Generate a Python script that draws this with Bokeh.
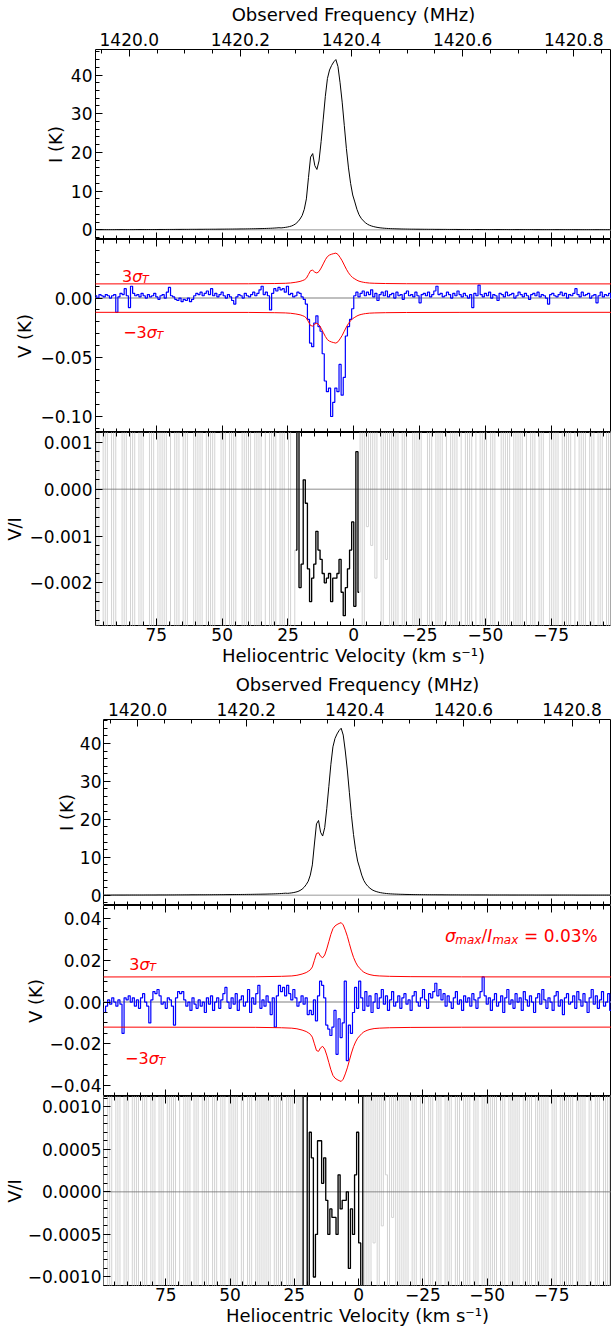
import numpy as np
from bokeh.plotting import figure
from bokeh.layouts import column
from bokeh.models import (Range1d, LinearAxis, SingleIntervalTicker, CustomJSTickFormatter,
                          CustomLabelingPolicy, Label)
from bokeh.embed import file_html
from bokeh.resources import INLINE

# ---------------- data ----------------
V_START = 99.6          # km/s, velocity of first channel
DV = 0.8                # km/s, channel width
MHZ_PER_KMS = 0.0047379 # observed-frequency change per km/s

# Stokes I (K), one value per channel
I_K = [
    0.04, 0.04, 0.04, 0.05, 0.04, 0.05, 0.05, 0.05, 0.05, 0.05,
    0.05, 0.05, 0.06, 0.05, 0.06, 0.06, 0.06, 0.06, 0.06, 0.06,
    0.06, 0.07, 0.07, 0.07, 0.07, 0.07, 0.07, 0.08, 0.08, 0.08,
    0.08, 0.08, 0.09, 0.09, 0.09, 0.09, 0.10, 0.10, 0.10, 0.10,
    0.11, 0.11, 0.11, 0.12, 0.12, 0.12, 0.12, 0.13, 0.13, 0.13,
    0.13, 0.14, 0.14, 0.14, 0.15, 0.15, 0.15, 0.16, 0.16, 0.16,
    0.17, 0.17, 0.18, 0.18, 0.19, 0.19, 0.20, 0.20, 0.21, 0.21,
    0.22, 0.23, 0.23, 0.24, 0.25, 0.26, 0.27, 0.28, 0.29, 0.30,
    0.31, 0.33, 0.34, 0.36, 0.38, 0.40, 0.43, 0.46, 0.50, 0.54,
    0.50, 0.56, 0.63, 0.72, 0.84, 1.00, 1.25, 1.60, 2.10, 2.80,
    3.7, 5.3, 8.0, 13.5, 18.8, 19.7, 16.6, 15.6, 17.8, 22.8,
    28.6, 34.5, 39.1, 41.3, 42.5, 43.4, 44.0, 42.2, 38.0, 33.0,
    27.0, 21.0, 16.0, 12.0, 9.0, 7.2, 5.3, 3.9, 3.0, 2.35,
    1.85, 1.45, 1.18, 0.98, 0.82, 0.70, 0.60, 0.52, 0.46, 0.41,
    0.37, 0.34, 0.31, 0.29, 0.27, 0.25, 0.24, 0.22, 0.21, 0.20,
    0.19, 0.18, 0.17, 0.17, 0.16, 0.16, 0.15, 0.15, 0.14, 0.14,
    0.13, 0.13, 0.13, 0.12, 0.12, 0.12, 0.11, 0.11, 0.11, 0.10,
    0.10, 0.10, 0.10, 0.10, 0.09, 0.09, 0.09, 0.09, 0.09, 0.09,
    0.08, 0.08, 0.08, 0.08, 0.08, 0.08, 0.08, 0.08, 0.07, 0.07,
    0.07, 0.07, 0.07, 0.07, 0.07, 0.07, 0.07, 0.07, 0.06, 0.06,
    0.06, 0.06, 0.06, 0.06, 0.06, 0.06, 0.06, 0.06, 0.06, 0.06,
    0.05, 0.05, 0.05, 0.05, 0.05, 0.05, 0.05, 0.05, 0.05, 0.05,
    0.05, 0.05, 0.05, 0.05, 0.05, 0.05, 0.05, 0.05, 0.05, 0.05,
    0.04, 0.04, 0.04, 0.04, 0.04, 0.04, 0.04, 0.04, 0.04, 0.04,
    0.04, 0.04, 0.04, 0.04, 0.04, 0.04, 0.04, 0.04, 0.04, 0.04,
]

# Stokes V (mK), upper figure
V_TOP_MK = [
    -1, 1, 2, 0, 3, 2, 1, 3, 2, 0,
    2, 3, -12, 1, 4, 3, 8, 2, -8, 10,
    4, 2, 3, 1, 4, 2, 0, 3, 1, 2,
    4, 1, -1, 2, 3, 0, 5, 9, 2, 1,
    -1, -2, 0, -3, -1, -2, 0, -3, -1, 2,
    4, 3, 5, 2, 4, 6, 3, 8, 2, 4,
    1, 3, 5, 2, 0, 3, 1, -2, -5, 1,
    3, 2, 0, 4, 2, 1, 3, 5, 2, 4,
    7, 10, 3, 5, 2, -10, 4, 8, 6, 9,
    7, 8, 5, 10, 3, 4, 1, 2, 5, 4,
    1, -1, -5, -18, -38, -41, -21, -15, -24, -28,
    -47, -70, -79, -76, -100, -88, -76, -79, -56, -82,
    -67, -32, -24, -18, -9, 2, 5, 1, 4, 6,
    2, 5, 3, 7, 1, 4, -2, 3, 5, 2,
    6, 1, 3, 4, 0, 5, 2, 3, -1, 4,
    6, 2, 3, 1, 5, 2, -4, 3, 4, 2,
    5, 1, 3, 6, 10, 3, 4, 1, 2, 5,
    3, 0, 4, 2, 6, 3, 1, 4, 2, 0,
    3, -8, 4, 2, 11, 3, 1, 4, 2, 5,
    0, 3, 2, -2, 4, 3, 1, 5, 2, 3,
    4, 0, 2, 5, 3, 1, 4, 2, -1, 3,
    4, 2, 5, 1, 3, 2, 0, -5, 3, 4,
    2, 1, 3, 5, 2, 4, 0, 3, 2, 4,
    8, 3, 1, 5, 2, 3, 4, 0, 2, 3,
    -4, 2, 5, 1, 3, 2, 4, 0, 3, 2,
]

# Stokes V (mK), lower figure
V_BOT_MK = [
    -3, -5, -2, 1, -1, 2, 0, -2, 1, -1,
    -15, 2, 1, 3, 0, 2, -2, 1, -3, 2,
    4, 0, -2, -10, 1, 5, 4, 6, 3, -1,
    0, -3, 2, 1, -2, -11, 2, 5, 4, 5,
    1, -2, 0, -4, 2, -1, -3, 1, -2, 0,
    -5, 2, -1, 3, -4, 0, 2, -3, 1, 4,
    7, 0, -3, 2, -1, 4, -4, 1, 3, -2,
    0, 6, -5, 2, -1, 4, 8, -3, 1, -2,
    3, 0, -6, 2, -12, 3, 8, 5, 7, 3,
    8, 4, 1, 6, 2, -2, 0, 3, -1, 2,
    -6, -4, -6, 1, -9, 3, 10, 8, 2, -11,
    -13, -16, -12, -4, -25, -8, -17, -10, 10, -28,
    -11, -15, -5, 7, -3, 10, 2, -4, 5, -2,
    3, -5, 0, 4, -3, 2, 6, -1, 3, -4,
    1, 5, -2, 0, 3, -3, 2, 4, -1, 1,
    -4, 3, 5, 0, -2, 2, 6, 1, -3, 4,
    2, 5, 9, 3, 6, 1, 4, -2, 3, 0,
    -3, 2, 5, -1, 1, -4, 3, 0, 2, -2,
    4, 1, -3, 2, 5, 12, 3, -1, 2, -4,
    1, 4, -2, 0, 3, -5, 2, 6, -1, 1,
    -3, 4, 0, 2, -4, 5, 1, -2, 3, 0,
    -5, 2, 4, -1, 6, 1, -3, 2, 0, -4,
    3, 5, -2, 1, -6, 2, 4, -1, 0, 3,
    -3, 5, 1, -2, 4, 0, -5, 2, 6, -1,
    3, -3, 1, 5, -2, 0, 4, -4, 2, -1,
]

# 3-sigma threshold curve (mK)
SIG3_VEL = [99.6, 40.0, 30.0, 26.0, 24.0, 22.0, 20.4, 19.6, 18.8, 18.0, 17.2, 16.4, 15.6, 14.8,
            14.0, 13.2, 12.4, 11.6, 10.8, 10.0, 9.2, 8.4, 7.6, 6.8, 6.0, 5.2, 4.4, 3.6, 2.8,
            2.0, 1.2, 0.4, -0.4, -1.2, -2.0, -2.8, -3.6, -4.4, -6.0, -8.0, -12.0, -20.0, -40.0, -99.6]
SIG3_MK = [12.0, 12.1, 12.3, 12.5, 12.8, 13.4, 14.1, 14.7, 15.4, 16.8, 20.0, 23.2, 23.6, 21.9,
           21.2, 22.5, 25.4, 28.9, 32.4, 35.1, 36.4, 37.1, 37.6, 38.0, 36.9, 34.4, 31.5, 27.9, 24.4,
           21.4, 19.1, 17.3, 16.2, 15.1, 14.3, 13.8, 13.4, 13.1, 12.7, 12.5, 12.3, 12.15, 12.05, 12.0]

# V/I (units of 1e-4): wings (grey) and line channels (black), upper figure
VI_TOP_LEFT = [
    40, 40, -40, 40, -40, -40, 40, -40, 40, 40,
    -40, 40, -40, -40, -40, 40, -40, 40, 40, -40,
    40, -40, -40, 40, -40, 40, 40, 40, -40, 40,
    -40, -40, 40, -40, 40, -40, 40, 40, -40, -40,
    40, -40, 40, 40, -40, 40, -40, -40, -40, 40,
    -40, 40, -40, 40, 40, -40, 40, -40, 40, -40,
    -40, -40, 40, -40, 40, 40, -40, 40, -40, 40,
    40, 40, -40, 40, -40, 40, -40, -40, 40, -40,
    40, -40, -40, 40, 40, -40, 40, -40, 40, 40,
    -40, 40, -40, -40, 40, -40, -40,
]
VI_TOP_LINE = [-13, 40, -21, -16, 2, -3, -17, -24, -19, -16, -9, -13, -15, -18, -20, -19,
               -18, -24, -19, -19, -18, -15, -22, -27, -21, -17, -13, -7, -25, 8, -22]
VI_TOP_RIGHT = [
    40, -40, 40, -8, 40, -12, 40, -19, 40, 40, -40, 40, -15, 40, -40, 40, -40, 40,
    -40, -40, 40, -40, 40, 40, 40, -40, 40, -40,
    40, -40, -40, -40, 40, -40, 40, 40, -40, 40,
    -40, 40, 40, -40, -40, 40, -40, 40, -40, -40,
    40, 40, -40, 40, -40, 40, 40, -40, -40, 40,
    -40, 40, -40, -40, 40, -40, 40, 40, 40, -40,
    40, -40, 40, -40, -40, 40, -40, 40, -40, 40,
    40, -40, -40, 40, -40, 40, 40, -40, 40, -40,
    -40, -40, 40, -40, 40, -40, 40, 40, -40, 40,
    -40, 40, -40, -40, 40, 40, -40, 40, -40, 40,
    40, -40, 40, -40, -40, 40, -40, 40, 40, -40,
    40, -40, 40, -40,
]

# V/I (units of 1e-4), lower figure
VI_BOT_LEFT = [
    -30, 30, 30, -30, 30, -30, -30, 30, -30, 30,
    30, -30, 30, -30, -30, 30, -30, 30, -30, -30,
    30, -30, 30, 30, -30, 30, -30, -30, 30, -30,
    30, 30, -30, 30, -30, 30, -30, -30, 30, 30,
    -30, 30, -30, 30, 30, -30, 30, -30, -30, 30,
    -30, 30, -30, -30, 30, -30, 30, 30, -30, 30,
    -30, -30, 30, -30, 30, -30, 30, 30, -30, 30,
    30, -30, 30, -30, -30, 30, -30, 30, -30, 30,
    -30, 30, -30, -30, 30, -30, 30, -30, 30, 30,
    -30, 30, -30, 30, 30, -30, 30,
]
VI_BOT_LINE = [-30, 30, 30, -30, 7, 4, -10, -5, 6, 6, 1, 4, -1, -5, -2, -3,
               -3, -5, 2, -2, -1, -1, 0, -9, -2, -5, 2, 7, -6, -30, 30]
VI_BOT_RIGHT = [
    -30, 30, -30, 30, -6, 30, -30, 30, -4, 30, 2, -30, 30, -3, 30, -30, 30, -30,
    30, -30, 30, -30, -30, 30, -30, 30, 30, -30,
    30, -30, -30, 30, -30, 30, 30, -30, 30, -30,
    -30, 30, -30, 30, -30, -30, 30, -30, 30, 30,
    -30, 30, -30, 30, 30, -30, 30, -30, -30, 30,
    -30, 30, -30, 30, -30, 30, -30, -30, 30, -30,
    30, 30, -30, 30, -30, 30, -30, 30, 30, -30,
    30, -30, 30, -30, -30, 30, -30, 30, -30, 30,
    -30, 30, 30, -30, 30, -30, -30, 30, -30, 30,
    -30, 30, -30, 30, 30, -30, 30, -30, 30, -30,
    -30, 30, -30, -30, 30, -30, 30, 30, -30, 30,
    -30, 30, -30, 30,
]

# axis settings
VEL_TICK, VEL_MINOR = 25, 5
FREQ_TICK, FREQ_MINOR = 0.2, 4

# ---------------- derived ----------------
N = len(I_K)
VEL = V_START - DV * np.arange(N)
I_ARR = np.array(I_K)
VT = np.array(V_TOP_MK) / 1000.0
VB = np.array(V_BOT_MK) / 1000.0
S3V = np.array(SIG3_VEL)
S3 = np.array(SIG3_MK) / 1000.0
L0 = len(VI_TOP_LEFT)
L1 = L0 + len(VI_TOP_LINE)
VIT = np.array(VI_TOP_LEFT + VI_TOP_LINE + VI_TOP_RIGHT) * 1e-4
VIB = np.array(VI_BOT_LEFT + VI_BOT_LINE + VI_BOT_RIGHT) * 1e-4

FONT = "DejaVu Sans"
TICK_PX = "17px"
LABEL_PX = "18px"
W = 611
MINUS = "\u2212"


def fmt(dec):
    return CustomJSTickFormatter(code=(
        "const a = Math.abs(tick) < 1e-12 ? 0 : tick;"
        "const s = Math.abs(a).toFixed(%d);"
        "return (a < 0 ? '%s' : '') + s;" % (dec, MINUS)))


def make_fig(h, xr, yr, left, top, bottom):
    p = figure(width=W, height=h, x_range=xr, y_range=yr, output_backend="svg",
               toolbar_location=None, x_axis_location=None, y_axis_location=None,
               min_border=0, min_border_left=left, min_border_right=0,
               min_border_top=top, min_border_bottom=bottom)
    p.outline_line_color = "black"
    p.outline_line_width = 1
    p.background_fill_color = "white"
    p.border_fill_color = "white"
    p.grid.grid_line_color = None
    p.xgrid.visible = False
    p.ygrid.visible = False
    return p


def add_axis(p, place, ticker, formatter, show, label=None, range_name=None,
             standoff=3, label_standoff=2):
    kw = {}
    if range_name:
        kw["x_range_name"] = range_name
    ax = LinearAxis(ticker=ticker, formatter=formatter, **kw)
    ax.major_tick_in = 7
    ax.major_tick_out = 0
    ax.minor_tick_in = 4
    ax.minor_tick_out = 0
    ax.major_tick_line_color = "black"
    ax.minor_tick_line_color = "black"
    ax.axis_line_color = None
    ax.major_label_text_font = FONT
    ax.major_label_text_color = "black"
    if show:
        ax.major_label_text_font_size = TICK_PX
        ax.major_label_standoff = standoff
    else:
        ax.major_label_text_font_size = "0px"
        ax.major_label_standoff = 0
        ax.major_label_policy = CustomLabelingPolicy(code="return [];")
    if label:
        ax.axis_label = label
        ax.axis_label_text_font = FONT
        ax.axis_label_text_font_size = LABEL_PX
        ax.axis_label_text_font_style = "normal"
        ax.axis_label_text_color = "black"
        ax.axis_label_standoff = label_standoff
    p.add_layout(ax, place)
    return ax


def vel_ticker():
    return SingleIntervalTicker(interval=VEL_TICK, num_minor_ticks=VEL_MINOR)


def add_text(p, x, y, pieces, color="red"):
    for t, style, size, dx, dy in pieces:
        p.add_layout(Label(x=x, y=y, x_offset=dx, y_offset=dy, text=t, text_font=FONT,
                           text_font_style=style, text_font_size=f"{size}px",
                           text_color=color, text_baseline="alphabetic", text_align="left"))


def sigma_pieces(neg):
    if neg:
        return [(MINUS + "3", "normal", 16, 0, 0), ("\u03c3", "italic", 16, 23.6, 0),
                ("T", "italic", 11, 33.4, -3.5)]
    return [("3", "normal", 16, 0, 0), ("\u03c3", "italic", 16, 10.2, 0),
            ("T", "italic", 11, 20, -3.5)]


def build_set(xlim, f0, left, heights, borders, ylims, vticks, vi_ticks, v_dec, vi_dec,
              V, VI, vi_line, texts, extra_text=None, ystand=(3, 2)):
    xr = Range1d(*xlim)
    f_lo = f0 - xlim[0] * MHZ_PER_KMS
    f_hi = f0 - xlim[1] * MHZ_PER_KMS

    # --- I panel ---
    p1 = make_fig(heights[0], xr, Range1d(*ylims[0]), left, borders[0], 0)
    p1.extra_x_ranges = {"freq": Range1d(f_lo, f_hi)}
    add_axis(p1, "above", SingleIntervalTicker(interval=FREQ_TICK, num_minor_ticks=FREQ_MINOR),
             fmt(1), True, label="Observed Frequency (MHz)", range_name="freq",
             standoff=4, label_standoff=5)
    add_axis(p1, "below", vel_ticker(), fmt(0), False)
    add_axis(p1, "left", SingleIntervalTicker(interval=10, num_minor_ticks=5), fmt(0), True,
             label="I (K)", standoff=ystand[0], label_standoff=ystand[1])
    p1.line(x=[VEL[0], VEL[-1]], y=[0, 0], line_color="#bbbbbb", line_width=1.5)
    p1.line(x=VEL, y=I_ARR, line_color="black", line_width=1)

    # --- V panel ---
    p2 = make_fig(heights[1], xr, Range1d(*ylims[1]), left, 0, 0)
    add_axis(p2, "above", vel_ticker(), fmt(0), False)
    add_axis(p2, "below", vel_ticker(), fmt(0), False)
    add_axis(p2, "left", SingleIntervalTicker(interval=vticks[0], num_minor_ticks=vticks[1]),
             fmt(v_dec), True, label="V (K)", standoff=ystand[0], label_standoff=ystand[1])
    p2.line(x=[VEL[0], VEL[-1]], y=[0, 0], line_color="#aaaaaa", line_width=1.5)
    p2.step(x=VEL, y=V, mode="center", line_color="#0000ff", line_width=1.2)
    p2.line(x=S3V, y=S3, line_color="#ff0000", line_width=1)
    p2.line(x=S3V, y=-S3, line_color="#ff0000", line_width=1)
    add_text(p2, texts[0][0], texts[0][1], sigma_pieces(False))
    add_text(p2, texts[1][0], texts[1][1], sigma_pieces(True))
    if extra_text:
        x, y = extra_text
        add_text(p2, x, y, [("\u03c3", "italic", 17, 0, 0), ("max", "italic", 12, 10.2, -4),
                            ("/", "normal", 17, 36.4, 0), ("I", "italic", 17, 42.1, 0),
                            ("max", "italic", 12, 47.1, -4), ("= 0.03%", "normal", 17, 79, 0)])

    # --- V/I panel ---
    p3 = make_fig(heights[2], xr, Range1d(*ylims[2]), left, 0, borders[1])
    add_axis(p3, "above", vel_ticker(), fmt(0), False)
    add_axis(p3, "below", vel_ticker(), fmt(0), True,
             label="Heliocentric Velocity (km s\u207b\u00b9)", standoff=2, label_standoff=1)
    add_axis(p3, "left", SingleIntervalTicker(interval=vi_ticks[0], num_minor_ticks=vi_ticks[1]),
             fmt(vi_dec), True, label="V/I", standoff=ystand[0], label_standoff=ystand[1])
    p3.step(x=VEL, y=VI, mode="center", line_color="#d3d3d3", line_width=1)
    p3.line(x=[VEL[0], VEL[-1]], y=[0, 0], line_color="#707070", line_width=0.8)
    p3.step(x=VEL[L0:L1], y=vi_line, mode="center", line_color="black", line_width=1.3)
    return column(p1, p2, p3, spacing=0)


top = build_set(xlim=(98.1, -97.9), f0=1420.404, left=94, heights=(239, 193, 238),
                borders=(47, 45),
                ylims=((-2.5, 46.6), (-0.1135, 0.0495), (-0.00291, 0.00121)),
                vticks=(0.05, 5), vi_ticks=(0.001, 5), v_dec=2, vi_dec=3,
                V=VT, VI=VIT, vi_line=np.array(VI_TOP_LINE) * 1e-4,
                texts=((88.0, 0.0183), (87.6, -0.0290)))

bot = build_set(xlim=(99.2, -98.3), f0=1420.407, left=103, heights=(235, 191, 233),
                borders=(47, 44),
                ylims=((-2.7, 46.3), (-0.0452, 0.0462), (-0.0011, 0.00112)),
                vticks=(0.02, 4), vi_ticks=(0.0005, 5), v_dec=2, vi_dec=4,
                V=VB, VI=VIB, vi_line=np.array(VI_BOT_LINE) * 1e-4,
                texts=((89.2, 0.0180), (90.8, -0.0270)),
                extra_text=(-33.6, 0.0314), ystand=(2, 0))

open("out.html", "w").write(file_html([top, bot], INLINE, title="HI Stokes V"))
